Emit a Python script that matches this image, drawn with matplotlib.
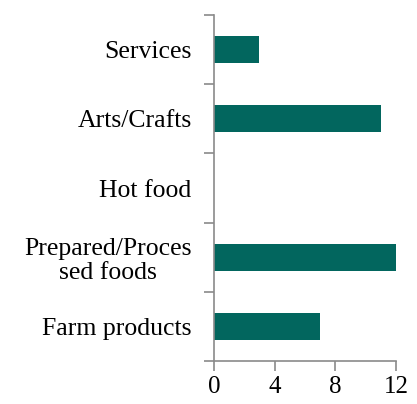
import matplotlib.pyplot as plt

# categories listed bottom to top
categories = ['Farm products', 'Prepared/Proces\nsed foods', 'Hot food', 'Arts/Crafts', 'Services']
counts = [7, 12, 0, 11, 3]
xticks = [0, 4, 8, 12]

plt.rcParams['font.family'] = ['Liberation Serif', 'DejaVu Serif']

fig = plt.figure(figsize=(4.17, 4.04), dpi=100)
ax = fig.add_axes([0.513, 0.106, 0.437, 0.857])

pos = list(range(len(categories)))
ax.barh(pos, counts, height=0.39, color='#02665E')

ax.set_xlim(0, 12)
ax.set_ylim(-0.5, len(categories) - 0.5)
ax.set_xticks(xticks)
ax.set_xticklabels([str(t) for t in xticks], fontsize=18)

# category labels sit between the minor tick marks
ax.set_yticks(pos)
ax.set_yticklabels(categories, fontsize=18.5)
for lab in ax.get_yticklabels():
    lab.set_multialignment('center')
    lab.set_linespacing(1.12)
ax.tick_params(axis='y', which='major', length=0, pad=16)
ax.set_yticks([p + 0.5 for p in range(-1, len(categories))], minor=True)
ax.tick_params(axis='y', which='minor', length=7, color='#8a8a8a', width=1.2)
ax.tick_params(axis='x', length=7, color='#8a8a8a', width=1.2, pad=4)

for side in ['top', 'right']:
    ax.spines[side].set_visible(False)
for side in ['left', 'bottom']:
    ax.spines[side].set_color('#8a8a8a')
    ax.spines[side].set_linewidth(1.2)

fig.savefig('out.png', dpi=100)
